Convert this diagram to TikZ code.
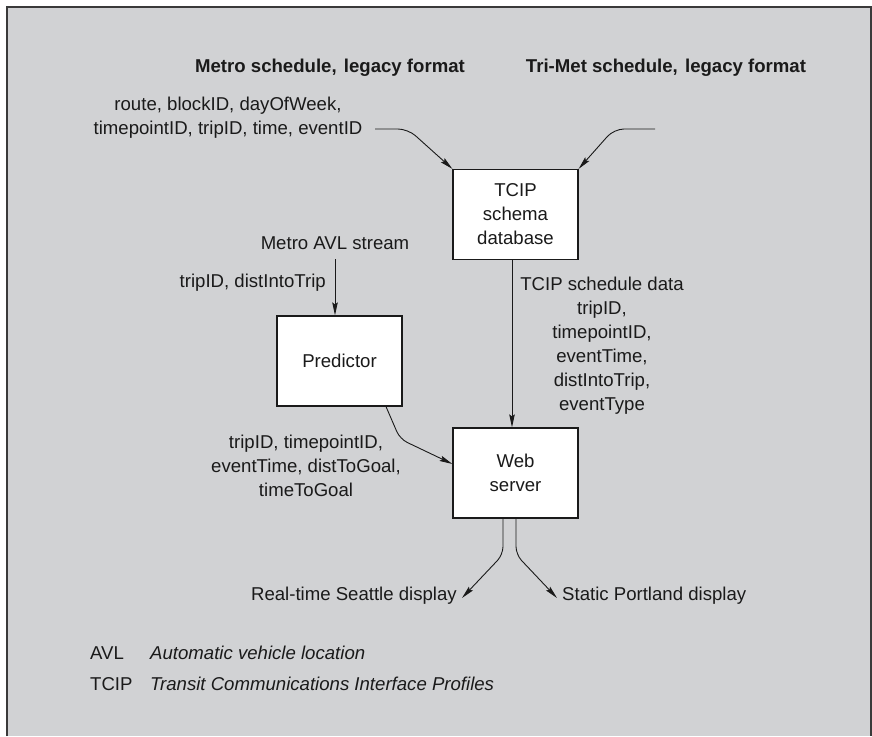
\documentclass[tikz,border=0pt]{standalone}
\usepackage{fontspec}
\setmainfont{Liberation Sans}
\usetikzlibrary{arrows.meta}
\definecolor{panel}{HTML}{D1D2D4}
\definecolor{framec}{HTML}{3A3A3A}
\definecolor{ink}{HTML}{1A1A1A}
\begin{document}
\begin{tikzpicture}[x=1pt,y=-1pt,
  every node/.style={font=\fontsize{18.6}{24}\selectfont, text=ink},
  hd/.style={font=\fontsize{18.6}{24}\selectfont\bfseries, inner sep=0pt},
  box/.style={draw=ink, fill=white, line width=1.2pt, minimum width=125pt, minimum height=90pt, align=center, inner sep=0pt},
  lbl/.style={align=center, inner sep=0pt},
  conn/.style={draw=ink, line width=0.9pt},
  arr/.style={conn, -{Stealth[length=13pt,width=5.5pt,inset=2pt]}},
]
\useasboundingbox (0,0) rectangle (872,736);
\fill[panel] (7,7) rectangle (871,736);
\draw[framec, line width=1.6pt] (7,736) -- (7,7) -- (871,7) -- (871,736);

% boxes
\node[box] (tcip) at (515.5,214.5) {TCIP\\schema\\database};
\node[box] (web) at (515.5,473) {Web\\server};
\node[box] (pred) at (339.5,361) {Predictor};

% headings
\node[hd, anchor=base] (metro) at (330,72) {Metro schedule,\hspace{2pt} legacy format};
\node[hd, anchor=base] (trimet) at (666,72) {Tri-Met schedule,\hspace{2pt} legacy format};

% labels
\node[lbl] (route) at (228,118) {route, blockID, dayOfWeek,\\timepointID, tripID, time, eventID};
\node[lbl] (sched) at (602,346) {TCIP schedule data\\tripID,\\timepointID,\\eventTime,\\distIntoTrip,\\eventType};
\node[lbl, anchor=base] (avl) at (335,249) {Metro AVL stream};
\node[lbl, anchor=base east] (dist) at (326,287) {tripID, distIntoTrip};
\node[lbl] (plabel) at (306,466) {tripID, timepointID,\\eventTime, distToGoal,\\timeToGoal};
\node[lbl, anchor=base east] (seattle) at (457,600) {Real-time Seattle display};
\node[lbl, anchor=base west] (portland) at (562,600) {Static Portland display};

% legend
\node[lbl, anchor=base west] (avlab) at (90,659) {AVL};
\node[lbl, anchor=base west] (avldef) at (150,659) {\itshape Automatic vehicle location};
\node[lbl, anchor=base west] (tcipab) at (90,690) {TCIP};
\node[lbl, anchor=base west] (tcipdef) at (150,690) {\itshape Transit Communications Interface Profiles};

% connectors
\coordinate (m0) at (375,129);
\draw[arr, rounded corners=10pt] (m0) -- (408,129) -- (tcip.north west);
\coordinate (t0) at (655,129);
\draw[arr, rounded corners=10pt] (t0) -- (614,129) -- (tcip.north east);
\draw[arr] ([xshift=-3.5pt]tcip.south) -- ([xshift=-3.5pt]web.north);
\coordinate (a0) at (335,259);
\draw[arr] (a0) -- (a0 |- pred.north);
\draw[arr, rounded corners=8pt] ([xshift=46.5pt]pred.south) -- (400,439) -- ([yshift=9pt]web.west);
\coordinate (s1) at (462,598);
\coordinate (p1) at (557,598);
\draw[arr, rounded corners=8pt] ([xshift=-12.5pt]web.south) -- ++(0,36) -- (s1);
\draw[arr, rounded corners=8pt] ([xshift=0.5pt]web.south) -- ++(0,36) -- (p1);
\end{tikzpicture}
\end{document}
